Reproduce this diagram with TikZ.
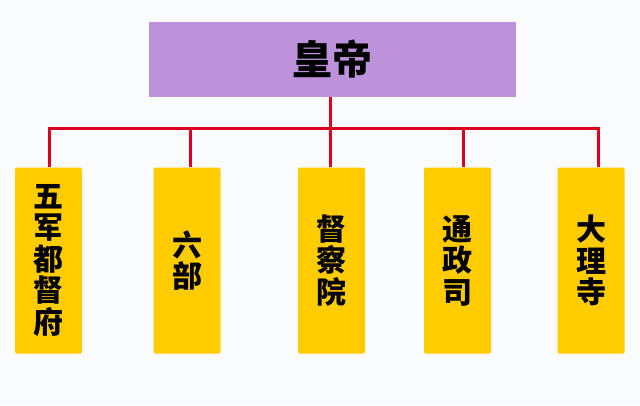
\documentclass[tikz,border=0pt]{standalone}
\usepackage{fontspec}
\newfontfamily\cjk{Noto Sans CJK SC}
\definecolor{emperorfill}{RGB}{188,146,218}
\definecolor{officefill}{RGB}{255,204,0}
\definecolor{redline}{RGB}{222,0,32}
\definecolor{paper}{RGB}{250,251,252}
\begin{document}
\begin{tikzpicture}[x=1pt,y=-1pt]
       \tikzstyle{topnode}=[fill=emperorfill, minimum width=367pt, minimum height=75pt, inner sep=0pt, font=\cjk\bfseries\fontsize{40}{40}\selectfont]
       \tikzstyle{officenode}=[fill=officefill, rounded corners=1.5pt, minimum width=67pt, minimum height=186pt, inner sep=0pt, align=center, font=\cjk\bfseries\fontsize{30}{31.5}\selectfont]
       \tikzstyle{wire}=[draw=redline, line width=3pt]
       \fill[paper] (0,0) rectangle (640,405);
       % emperor and the five offices
       \node[topnode] (emperor) at (332.5,59.5) {皇帝};
       \node[officenode] (wujun) at (48.5,260.5) {五\\军\\都\\督\\府};
       \node[officenode] (liubu) at (187,260.5) {六\\部};
       \node[officenode] (ducha) at (331.5,260.5) {督\\察\\院};
       \node[officenode] (tongzheng) at (457.5,260.5) {通\\政\\司};
       \node[officenode] (dali) at (591,260.5) {大\\理\\寺};
       % red connectors
       \coordinate (bus) at (330,128);
       \draw[wire] (emperor.south -| bus) -- (bus);
       \draw[wire] ([xshift=0.5pt]wujun.north) |- (bus) -| ([xshift=7pt]dali.north);
       \draw[wire] ([xshift=3.5pt]liubu.north |- bus) -- ([xshift=3.5pt]liubu.north);
       \draw[wire] ([xshift=-1.5pt]ducha.north |- bus) -- ([xshift=-1.5pt]ducha.north);
       \draw[wire] ([xshift=5.5pt]tongzheng.north |- bus) -- ([xshift=5.5pt]tongzheng.north);
\end{tikzpicture}
\end{document}
